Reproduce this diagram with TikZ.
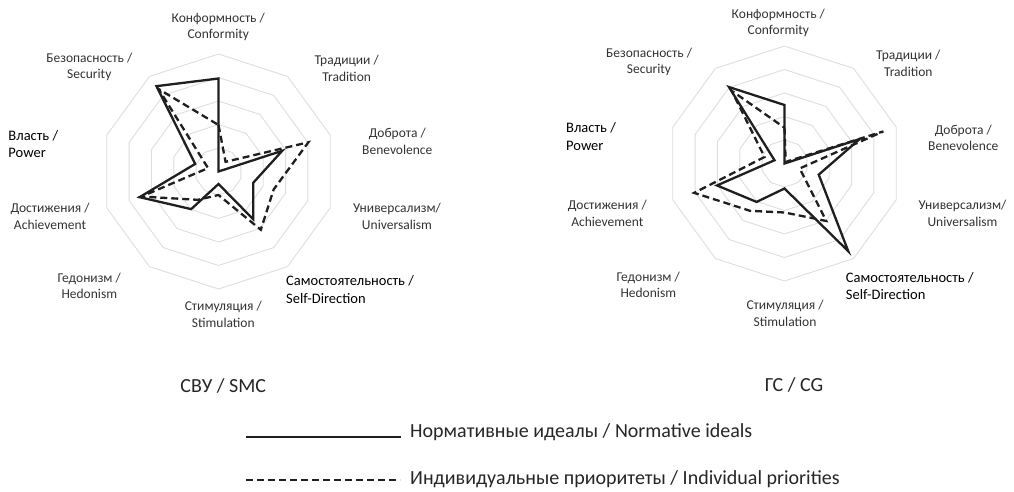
\documentclass[tikz,border=0pt]{standalone}
\usepackage{fontspec}
\setmainfont{Carlito}
\usetikzlibrary{calc}
\begin{document}
\begin{tikzpicture}[x=1pt,y=-1pt,
  gridline/.style={draw=black!13, line width=0.9pt},
  normline/.style={draw=black!88, line width=2.3pt, line join=miter, miter limit=5},
  indline/.style={draw=black!88, line width=2.3pt, dash pattern=on 7pt off 4pt, line join=miter, miter limit=5},
  axlabel/.style={text=black!80, font=\fontsize{13.5}{16.5}\selectfont, align=center, inner sep=0pt},
  blklabel/.style={text=black, font=\fontsize{14.5}{17.5}\selectfont, align=left, anchor=west, inner sep=0pt},
  ttl/.style={text=black!85, font=\fontsize{20}{24}\selectfont, inner sep=0pt},
  legtext/.style={text=black!85, font=\fontsize{20}{24}\selectfont, anchor=west, inner sep=0pt},
]
\useasboundingbox[fill=white] (0,0) rectangle (1014,491);
\coordinate (Lc) at (218.5,171.5);
\coordinate (Rc) at (784.5,163.5);
% grids
\foreach \c in {Lc,Rc}{
  \foreach \k in {1,...,5}{
    \draw[gridline] ($(\c)+(0,{-23.5*\k})$)
      \foreach \j in {1,...,9}{ -- ($(\c)+({23.5*\k*sin(36*\j)},{-23.5*\k*cos(36*\j)})$) } -- cycle;
  }
}
% data points
\foreach \r [count=\i from 0] in {93,0,67,36.5,59,12.5,46.5,83,24.5,105.5}
  \coordinate (Ls\i) at ($(Lc)+({\r*sin(36*\i)},{-\r*cos(36*\i)})$);
\foreach \r [count=\i from 0] in {46.5,12,94.5,58,72,23.5,35,81,11,102}
  \coordinate (Ld\i) at ($(Lc)+({\r*sin(36*\i)},{-\r*cos(36*\i)})$);
\foreach \r [count=\i from 0] in {58.5,0,79,36,108.5,25,47.5,71,10.5,94.5}
  \coordinate (Rs\i) at ($(Rc)+({\r*sin(36*\i)},{-\r*cos(36*\i)})$);
\foreach \r [count=\i from 0] in {35.8,2,104,16,71,49,58.5,95,21,90}
  \coordinate (Rd\i) at ($(Rc)+({\r*sin(36*\i)},{-\r*cos(36*\i)})$);
\draw[indline] (Ld0)--(Ld1)--(Ld2)--(Ld3)--(Ld4)--(Ld5)--(Ld6)--(Ld7)--(Ld8)--(Ld9)--cycle;
\draw[normline] (Ls0)--(Ls1)--(Ls2)--(Ls3)--(Ls4)--(Ls5)--(Ls6)--(Ls7)--(Ls8)--(Ls9)--cycle;
\draw[indline] (Rd0)--(Rd1)--(Rd2)--(Rd3)--(Rd4)--(Rd5)--(Rd6)--(Rd7)--(Rd8)--(Rd9)--cycle;
\draw[normline] (Rs0)--(Rs1)--(Rs2)--(Rs3)--(Rs4)--(Rs5)--(Rs6)--(Rs7)--(Rs8)--(Rs9)--cycle;
% left labels
\node[axlabel] (Lconf) at (218.3,27) {Конформность /\\Conformity};
\node[axlabel] (Ltrad) at (346.7,68.3) {Традиции /\\Tradition};
\node[axlabel] (Lbene) at (397.3,141.5) {Доброта /\\Benevolence};
\node[axlabel] (Luniv) at (397,216.5) {Универсализм/\\Universalism};
\node[blklabel] (Lself) at (286,289.5) {Самостоятельность /\\Self-Direction};
\node[axlabel] (Lstim) at (223.3,314.3) {Стимуляция /\\Stimulation};
\node[axlabel] (Lhedo) at (89.3,286) {Гедонизм /\\Hedonism};
\node[axlabel] (Lachi) at (50,216.3) {Достижения /\\Achievement};
\node[blklabel] (Lpowe) at (8.3,144) {Власть /\\Power};
\node[axlabel] (Lsecu) at (89.3,67) {Безопасность /\\Security};
% right labels
\node[axlabel] (Rconf) at (778.3,23) {Конформность /\\Conformity};
\node[axlabel] (Rtrad) at (908.3,63.3) {Традиции /\\Tradition};
\node[axlabel] (Rbene) at (963.3,137.7) {Доброта /\\Benevolence};
\node[axlabel] (Runiv) at (962.5,213.3) {Универсализм/\\Universalism};
\node[blklabel] (Rself) at (845.7,286) {Самостоятельность /\\Self-Direction};
\node[axlabel] (Rstim) at (785,313.3) {Стимуляция /\\Stimulation};
\node[axlabel] (Rhedo) at (648.3,284.7) {Гедонизм /\\Hedonism};
\node[axlabel] (Rachi) at (607.3,213.3) {Достижения /\\Achievement};
\node[blklabel] (Rpowe) at (566,136.7) {Власть /\\Power};
\node[axlabel] (Rsecu) at (649,62) {Безопасность /\\Security};
% titles
\node[ttl] (t1) at (223.3,386) {СВУ / SMC};
\node[ttl] (t2) at (794,385) {ГС / CG};
% legend
\coordinate (la1) at (246,437);
\coordinate (la2) at (401,437);
\coordinate (lb1) at (246,480);
\coordinate (lb2) at (400,480);
\draw[normline] (la1) -- (la2);
\draw[indline] (lb1) -- (lb2);
\node[legtext] (lt1) at (410,432) {Нормативные идеалы / Normative ideals};
\node[legtext] (lt2) at (410,479) {Индивидуальные приоритеты / Individual priorities};
\end{tikzpicture}
\end{document}
